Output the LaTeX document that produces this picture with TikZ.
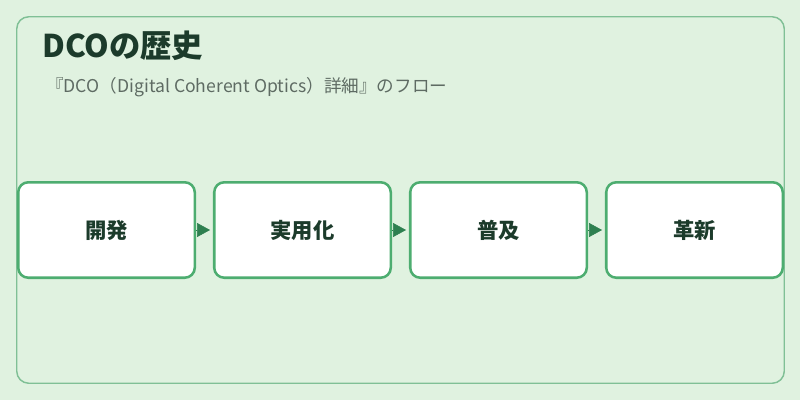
\documentclass[tikz,border=0pt]{standalone}
\usepackage{fontspec}
\setmainfont{Noto Sans CJK JP}
\usepackage{tikz}
\usetikzlibrary{positioning}
\usetikzlibrary{arrows.meta}
\definecolor{bgmint}{HTML}{E0F2E0}
\definecolor{framegreen}{HTML}{80C096}
\definecolor{boxgreen}{HTML}{4DAD70}
\definecolor{tipgreen}{HTML}{2E8050}
\definecolor{titleink}{HTML}{1C3B2B}
\definecolor{subink}{HTML}{5E6B63}
\tikzstyle{phase}=[draw=boxgreen,line width=1.9pt,fill=white,rounded corners=7.5pt,minimum width=132.4pt,minimum height=71.6pt,inner sep=0pt,font=\fontsize{16pt}{19pt}\selectfont\bfseries,text=titleink]

\begin{document}
\begin{tikzpicture}[x=0.75pt,y=-0.75pt,node distance=147pt,on grid, flow/.style={-{Triangle[length=9.75pt,width=10.5pt]},line width=0.4pt,draw=tipgreen,fill=tipgreen,shorten >=2.2pt}]
    %\draw [help lines] (0,0) grid (800,400);
    \useasboundingbox [fill=bgmint] (0,0) rectangle (800,400);
    \draw [framegreen, line width=1.1pt, rounded corners=9pt] (16.75,16.75) rectangle (784.25,383.25);
    \node [anchor=base west, font=\fontsize{23.5pt}{27pt}\selectfont\bfseries, text=titleink, inner sep=0pt] (title) at (42,57) {DCOの歴史};
    \node [anchor=base west, font=\fontsize{13.2pt}{15pt}\selectfont, text=subink, inner sep=0pt] (sub) at (46,92) {『DCO（Digital Coherent Optics）詳細』のフロー};

    \node [phase] (dev)            at (106.5,230) {開発};
    \node [phase, right=of dev]    (use)  {実用化};
    \node [phase, right=of use]    (pop)  {普及};
    \node [phase, right=of pop]    (inno) {革新};

    \draw [flow] (dev.east) -- (use.west);
    \draw [flow] (use.east) -- (pop.west);
    \draw [flow] (pop.east) -- (inno.west);
\end{tikzpicture}
\end{document}
